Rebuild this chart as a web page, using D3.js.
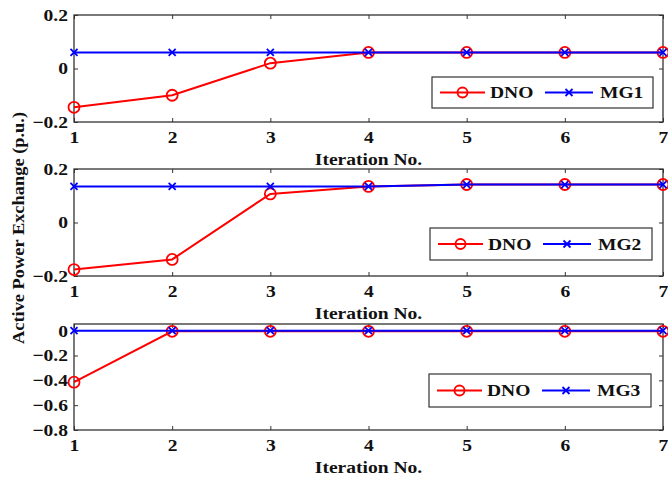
<!DOCTYPE html>
<html>
<head>
<meta charset="utf-8">
<script src="https://cdn.jsdelivr.net/npm/d3@7"></script>
<style>
  body { margin: 0; background: #fff; }
  svg text { font-family: "Liberation Serif", "Times New Roman", serif; font-weight: bold; fill: #111; }
</style>
</head>
<body>
<div id="chart"></div>
<script>
// data
const iterations = [1, 2, 3, 4, 5, 6, 7];

const dno1 = [-0.145, -0.10, 0.02, 0.06, 0.06, 0.06, 0.06];
const mg1  = [0.06, 0.06, 0.06, 0.06, 0.06, 0.06, 0.06];

const dno2 = [-0.176, -0.138, 0.107, 0.135, 0.142, 0.142, 0.142];
const mg2  = [0.135, 0.135, 0.135, 0.135, 0.142, 0.142, 0.142];

const dno3 = [-0.415, -0.005, -0.005, -0.005, -0.005, -0.005, -0.005];
const mg3  = [0, 0, 0, 0, 0, 0, 0];

const yTicks1 = [-0.2, 0, 0.2];
const yTicks2 = [-0.2, 0, 0.2];
const yTicks3 = [-0.8, -0.6, -0.4, -0.2, 0];

const panels = [
  { dno: dno1, mg: mg1, mgName: 'MG1', domain: [-0.2, 0.2], ticks: yTicks1, top: 15, bottom: 122, legend: [432, 77, 221, 31] },
  { dno: dno2, mg: mg2, mgName: 'MG2', domain: [-0.2, 0.2], ticks: yTicks2, top: 169, bottom: 276, legend: [430, 228, 222, 32] },
  { dno: dno3, mg: mg3, mgName: 'MG3', domain: [-0.8, 0.054], ticks: yTicks3, top: 324, bottom: 430, legend: [429, 374, 222, 33] }
];

const W = 668, H = 481;
const left = 74, right = 663;
const RED = '#ff0000', BLUE = '#0000ff';
const STRETCH = 1.15; // the original's lettering is a bit wider than Liberation Serif

const svg = d3.select('#chart').append('svg')
  .attr('width', W)
  .attr('height', H);

const x = d3.scaleLinear().domain([1, 7]).range([left, right]);

const fmt = d => d === 0 ? '0' : d3.format('.1f')(d);

// widen text horizontally around its anchor point
function stretch(sel) {
  sel.each(function() {
    const t = d3.select(this);
    const ax = +t.attr('x') || 0;
    const old = t.attr('transform') || '';
    t.attr('transform', `${old} translate(${ax},0) scale(${STRETCH},1) translate(${-ax},0)`);
  });
}

function xMarker(g, cx, cy, s, color) {
  g.append('path')
    .attr('d', `M${cx - s},${cy - s}L${cx + s},${cy + s}M${cx - s},${cy + s}L${cx + s},${cy - s}`)
    .attr('stroke', color)
    .attr('stroke-width', 1.8);
}

panels.forEach(p => {
  const y = d3.scaleLinear().domain(p.domain).range([p.bottom, p.top]);
  const g = svg.append('g');
  const ph = p.bottom - p.top;

  // ticks, all pointing inward
  const axes = [
    ['translate(0,' + p.bottom + ')', d3.axisBottom(x).tickValues(iterations).tickSize(-4).tickPadding(9).tickFormat(d3.format('d'))],
    ['translate(0,' + p.top + ')', d3.axisTop(x).tickValues(iterations).tickSize(-4).tickFormat('')],
    ['translate(' + left + ',0)', d3.axisLeft(y).tickValues(p.ticks).tickSize(-4).tickPadding(6).tickFormat(fmt)],
    ['translate(' + right + ',0)', d3.axisRight(y).tickValues(p.ticks).tickSize(-4).tickFormat('')]
  ];
  axes.forEach(([tr, ax]) => {
    const a = g.append('g').attr('transform', tr).call(ax);
    a.select('.domain').remove();
    a.selectAll('line').attr('stroke', '#333');
    a.selectAll('text').style('font-size', '17px').attr('fill', '#111').call(stretch);
  });

  g.append('rect')
    .attr('x', left).attr('y', p.top)
    .attr('width', right - left).attr('height', ph)
    .attr('fill', 'none').attr('stroke', '#333').attr('stroke-width', 1.3);

  const line = d3.line().x((d, i) => x(iterations[i])).y(d => y(d));

  g.append('path').datum(p.dno)
    .attr('fill', 'none').attr('stroke', RED).attr('stroke-width', 2)
    .attr('d', line);
  g.selectAll('.dno').data(p.dno).enter().append('circle')
    .attr('cx', (d, i) => x(iterations[i]))
    .attr('cy', d => y(d))
    .attr('r', 5.5)
    .attr('fill', 'none').attr('stroke', RED).attr('stroke-width', 1.8);

  g.append('path').datum(p.mg)
    .attr('fill', 'none').attr('stroke', BLUE).attr('stroke-width', 2)
    .attr('d', line);
  p.mg.forEach((d, i) => xMarker(g, x(iterations[i]), y(d), 3.5, BLUE));

  g.append('text')
    .attr('x', (left + right) / 2).attr('y', p.bottom + 43)
    .attr('text-anchor', 'middle')
    .style('font-size', '17px')
    .text('Iteration No.')
    .call(stretch);

  // legend
  const [lx, ly, lw, lh] = p.legend;
  const lg = g.append('g');
  lg.append('rect')
    .attr('x', lx).attr('y', ly).attr('width', lw).attr('height', lh)
    .attr('fill', '#fff').attr('stroke', '#333').attr('stroke-width', 1.2);
  const cy = ly + lh / 2;
  lg.append('line').attr('x1', lx + 8).attr('x2', lx + 53).attr('y1', cy).attr('y2', cy)
    .attr('stroke', RED).attr('stroke-width', 2);
  lg.append('circle').attr('cx', lx + 30.5).attr('cy', cy).attr('r', 5)
    .attr('fill', 'none').attr('stroke', RED).attr('stroke-width', 1.8);
  lg.append('text').attr('x', lx + 58).attr('y', cy + 6).style('font-size', '17px').text('DNO').call(stretch);
  lg.append('line').attr('x1', lx + 113).attr('x2', lx + 161).attr('y1', cy).attr('y2', cy)
    .attr('stroke', BLUE).attr('stroke-width', 2);
  xMarker(lg, lx + 137, cy, 3.5, BLUE);
  lg.append('text').attr('x', lx + 168).attr('y', cy + 6).style('font-size', '17px').text(p.mgName).call(stretch);
});

svg.append('text')
  .attr('transform', 'translate(24,228) rotate(-90) scale(' + STRETCH + ',1)')
  .attr('text-anchor', 'middle')
  .style('font-size', '16px')
  .text('Active Power Exchange (p.u.)');
</script>
</body>
</html>
